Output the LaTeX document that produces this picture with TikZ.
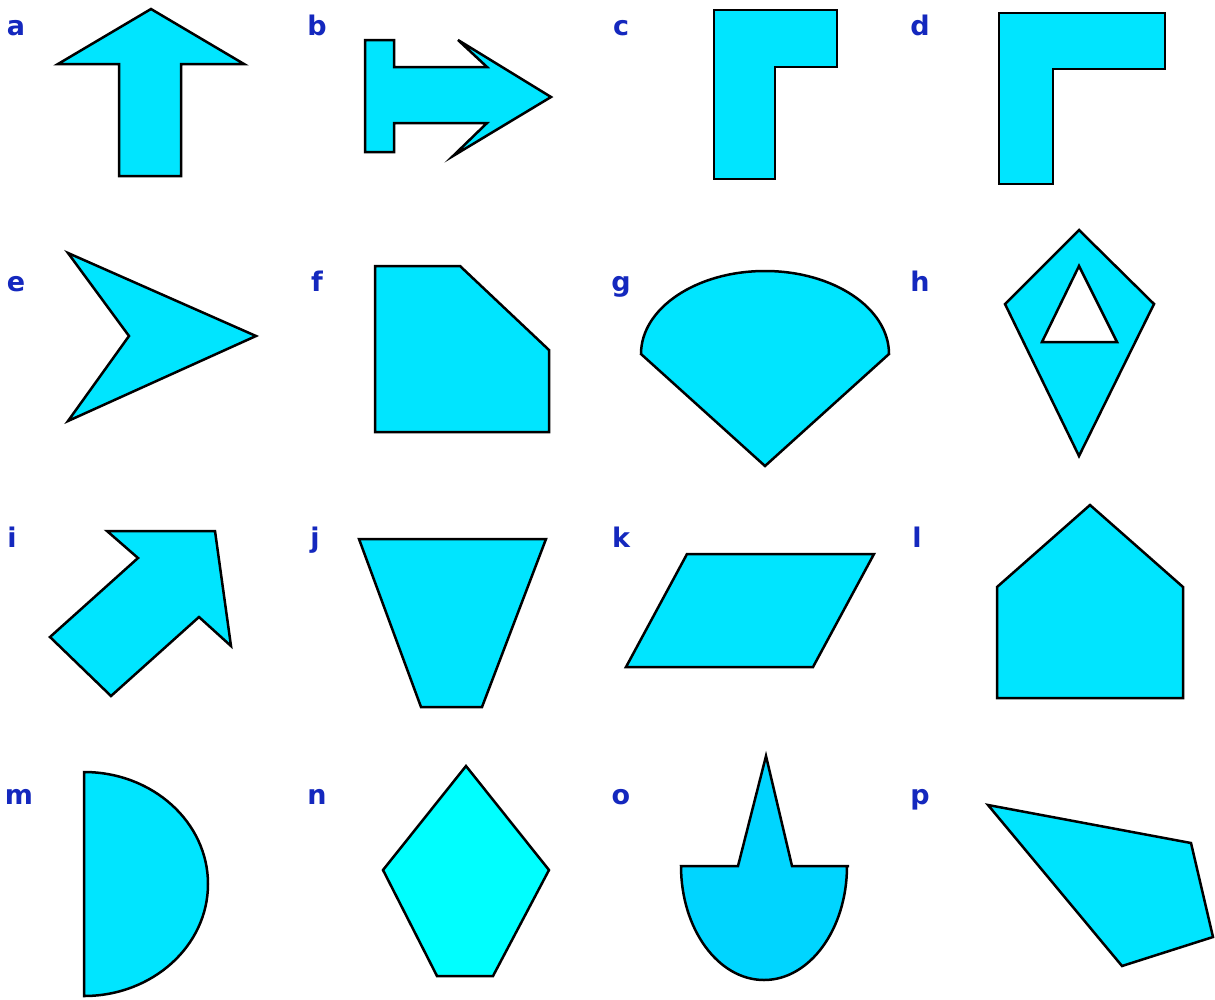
\documentclass[tikz,border=0pt]{standalone}
\usepackage{fontspec}
\setmainfont{DejaVu Sans}
\definecolor{shapecyan}{RGB}{0,229,255}
\definecolor{purecyan}{RGB}{0,255,255}
\definecolor{bowlcyan}{RGB}{0,213,255}
\definecolor{lblblue}{RGB}{20,40,190}
\begin{document}
\begin{tikzpicture}[x=1pt,y=-1pt,
  shp/.style={draw=black,fill=shapecyan,line width=2.5pt,line join=miter},
  lbl/.style={text=lblblue,font=\bfseries\fontsize{27}{29}\selectfont,inner sep=0pt,anchor=base}]
\useasboundingbox (0,0) rectangle (1215,999);
% labels
\node[lbl] (la) at (16,35) {a};
\node[lbl] (lb) at (317,35) {b};
\node[lbl] (lc) at (621,35) {c};
\node[lbl] (ld) at (920,35) {d};
\node[lbl] (le) at (16,291) {e};
\node[lbl] (lf) at (317,291) {f};
\node[lbl] (lg) at (621,291) {g};
\node[lbl] (lh) at (920,291) {h};
\node[lbl] (li) at (12,547) {i};
\node[lbl] (lj) at (315,547) {j};
\node[lbl] (lk) at (621,547) {k};
\node[lbl] (ll) at (917,547) {l};
\node[lbl] (lm) at (19,804) {m};
\node[lbl] (ln) at (317,804) {n};
\node[lbl] (lo) at (621,804) {o};
\node[lbl] (lp) at (920,804) {p};
% a
\draw[shp] (151,9) -- (244,64) -- (181,64) -- (181,176) -- (119,176) -- (119,64) -- (58,64) -- cycle;
% b
\draw[shp] (365,40) -- (394,40) -- (394,67) -- (487,67) -- (458,40) -- (551,97) -- (453,156) -- (487,123) -- (394,123) -- (394,152) -- (365,152) -- cycle;
% c
\draw[shp] (714,10) -- (837,10) -- (837,67) -- (775,67) -- (775,179) -- (714,179) -- cycle;
% d
\draw[shp] (999,13) -- (1165,13) -- (1165,69) -- (1053,69) -- (1053,184) -- (999,184) -- cycle;
% e
\draw[shp] (68,253) -- (256,336) -- (68,421) -- (129,336) -- cycle;
% f
\draw[shp] (375,266) -- (460,266) -- (549,350) -- (549,432) -- (375,432) -- cycle;
% g
\draw[shp] (765,466) -- (641,354) arc[start angle=180,end angle=0,x radius=124,y radius=-83] -- cycle;
% h
\draw[shp] (1079,230) -- (1154,304) -- (1079,456) -- (1005,304) -- cycle;
\draw[draw=black,fill=white,line width=2.5pt] (1079,266) -- (1117,342) -- (1042,342) -- cycle;
% i
\draw[shp] (107,531) -- (215,531) -- (231,646) -- (199,617) -- (111,696) -- (50,637) -- (138,558) -- cycle;
% j
\draw[shp] (359,539) -- (546,539) -- (482,707) -- (421,707) -- cycle;
% k
\draw[shp] (687,554) -- (874,554) -- (813,667) -- (626,667) -- cycle;
% l
\draw[shp] (1090,505) -- (1183,587) -- (1183,698) -- (997,698) -- (997,587) -- cycle;
% m
\draw[shp] (84,772) arc[start angle=90,end angle=-90,x radius=124,y radius=-112] -- cycle;
% n
\draw[shp,fill=purecyan] (466,766) -- (549,870) -- (493,976) -- (437,976) -- (383,870) -- cycle;
% o
\draw[shp,fill=bowlcyan] (681,866) -- (738,866) -- (766,756) -- (792,866) -- (849,866)
  -- (847,866) arc[start angle=0,end angle=-180,x radius=83,y radius=-114] -- cycle;
% p
\draw[shp] (988,805) -- (1191,843) -- (1213,937) -- (1122,966) -- cycle;
\end{tikzpicture}
\end{document}
